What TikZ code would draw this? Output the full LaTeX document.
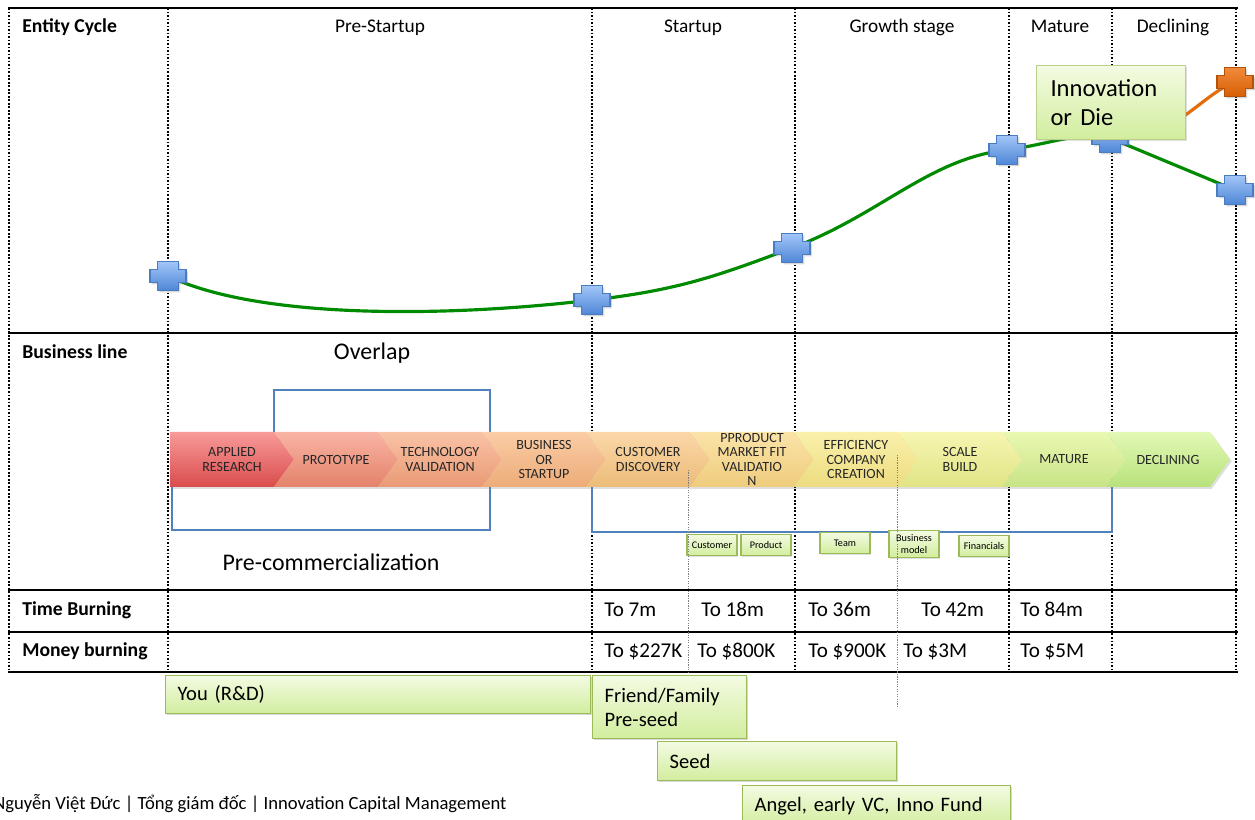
\documentclass[tikz,border=0pt]{standalone}
\usepackage{fontspec}
\setmainfont{Carlito}
\usetikzlibrary{shadows,positioning}

\definecolor{cyclegreen}{HTML}{008A00}
\definecolor{cycleorange}{HTML}{E46C0A}
\definecolor{markedge}{HTML}{4A7DBF}
\definecolor{marktop}{HTML}{A2C6F8}
\definecolor{markbot}{HTML}{4E86D6}
\definecolor{orangetop}{HTML}{F08A3A}
\definecolor{orangebot}{HTML}{D85F05}
\definecolor{orangeedge}{HTML}{B55208}
\definecolor{frameblue}{HTML}{4F81BD}
\definecolor{leafedge}{HTML}{9BBB59}
\definecolor{leaftop}{HTML}{F3FBE2}
\definecolor{leafbot}{HTML}{D2ED9E}
% chevron colours, top and bottom of each
\definecolor{chtop0}{HTML}{F89A9A}\definecolor{chbot0}{HTML}{DA4C4C}
\definecolor{chtop1}{HTML}{F9B4A4}\definecolor{chbot1}{HTML}{E4826A}
\definecolor{chtop2}{HTML}{FAC2A6}\definecolor{chbot2}{HTML}{E99A74}
\definecolor{chtop3}{HTML}{FBCCA6}\definecolor{chbot3}{HTML}{ECAC78}
\definecolor{chtop4}{HTML}{FBD7A8}\definecolor{chbot4}{HTML}{ECBC78}
\definecolor{chtop5}{HTML}{FBE3A8}\definecolor{chbot5}{HTML}{EECC7C}
\definecolor{chtop6}{HTML}{FAF0AA}\definecolor{chbot6}{HTML}{ECDC80}
\definecolor{chtop7}{HTML}{F6F6B2}\definecolor{chbot7}{HTML}{E0E484}
\definecolor{chtop8}{HTML}{EAF8B2}\definecolor{chbot8}{HTML}{C8E486}
\definecolor{chtop9}{HTML}{E2F8B4}\definecolor{chbot9}{HTML}{B8E27C}

\tikzset{
  rule/.style={black, line width=1.4pt},
  colline/.style={black, line width=1.1pt, dash pattern=on 1pt off 1pt},
  hairline/.style={gray, line width=0.4pt, dash pattern=on 0.7pt off 0.7pt},
  hdr/.style={anchor=base, font=\fontsize{11}{13}\selectfont},
  rowlabel/.style={anchor=base west, inner sep=0pt, font=\fontsize{11.2}{13}\selectfont\bfseries},
  cell/.style={anchor=base west, inner sep=0pt, font=\fontsize{12}{14}\selectfont},
  biglabel/.style={font=\fontsize{13.6}{16}\selectfont},
  framebox/.style={draw=frameblue, line width=0.6pt},
  chevron/.style={draw=none, drop shadow={opacity=0.25, shadow xshift=1pt, shadow yshift=-1pt}},
  chlabel/.style={align=center, text=black!85, font=\fontsize{8}{8.2}\selectfont},
  minibox/.style={draw=leafedge, line width=1pt, top color=leaftop, bottom color=leafbot,
    minimum width=1cm, minimum height=0.42cm, inner sep=0pt, align=center,
    font=\fontsize{5.8}{6.5}\selectfont,
    drop shadow={opacity=0.25, shadow xshift=0.7pt, shadow yshift=-0.7pt}},
  fundbox/.style={draw=leafedge, line width=0.8pt, top color=leaftop, bottom color=leafbot,
    anchor=north west, align=left, inner xsep=0.24cm, inner ysep=0pt,
    font=\fontsize{11.7}{13.8}\selectfont,
    drop shadow={opacity=0.3, shadow xshift=1pt, shadow yshift=-1pt}},
  innobox/.style={draw=leafedge!70, line width=0.6pt, top color=leaftop, bottom color=leafbot,
    anchor=north west, align=left, inner xsep=0.28cm, inner ysep=0pt,
    font=\fontsize{14}{16.4}\selectfont,
    drop shadow={opacity=0.25, shadow xshift=1pt, shadow yshift=-1pt}},
  growth/.style={cyclegreen, line width=1.8pt},
  renewal/.style={cycleorange, line width=1.8pt},
  bluemark/.style={draw=markedge, line width=0.6pt, top color=marktop, bottom color=markbot,
    drop shadow={opacity=0.3, shadow xshift=1pt, shadow yshift=-1pt}},
  orangemark/.style={draw=orangeedge, line width=0.6pt, top color=orangetop, bottom color=orangebot,
    drop shadow={opacity=0.3, shadow xshift=1pt, shadow yshift=-1pt}},
  pics/xmark/.style={code={
    \path[#1] (-10.5,-14.5) -- (10.5,-14.5) -- (10.5,-6.5) -- (18,-6.5) -- (18,6.5)
      -- (10.5,6.5) -- (10.5,14.5) -- (-10.5,14.5) -- (-10.5,6.5) -- (-18,6.5)
      -- (-18,-6.5) -- (-10.5,-6.5) -- cycle;
  }}
}

\begin{document}
\begin{tikzpicture}[x=0.02cm, y=-0.02cm]
\useasboundingbox (0,0) rectangle (1255,820);

% table rules
\foreach \x in {9,168,592,795,1009,1112,1236}
  \draw[colline] (\x,8) -- (\x,672);
\foreach \y in {8,333,590,632,672}
  \draw[rule] (8,\y) -- (1238,\y);

% header row
\node[rowlabel] (entity) at (22,33) {Entity Cycle};
\node[hdr] (prestartup) at (380,33) {Pre-Startup};
\node[hdr] (startup) at (693,33) {Startup};
\node[hdr] (growthstage) at (902,33) {Growth stage};
\node[hdr] (mature) at (1060,33) {Mature};
\node[hdr] (declining) at (1173,33) {Declining};

% business line
\node[rowlabel] (business) at (22,359) {Business line};
\node[biglabel] (overlap) at (372,353) {Overlap};
\draw[framebox] (274,390) rectangle (490,470);
\draw[framebox] (172,440) rectangle (490,530);
\draw[framebox] (592,440) rectangle (1112,532);
\node[biglabel] (precomm) at (331,562) {Pre-commercialization};

\foreach \i/\lbl in {0/{APPLIED\\RESEARCH}, 1/PROTOTYPE, 2/{TECHNOLOGY\\VALIDATION},
    3/{BUSINESS\\OR\\STARTUP}, 4/{CUSTOMER\\DISCOVERY}, 5/{PPRODUCT\\MARKET FIT\\VALIDATIO\\N},
    6/{EFFICIENCY\\COMPANY\\CREATION}, 7/{SCALE\\BUILD}, 8/MATURE, 9/DECLINING} {
  \pgfmathsetmacro\xa{170+104*\i}
  \pgfmathsetmacro\nd{\i==0 ? 0 : 20}
  \path[chevron, top color=chtop\i, bottom color=chbot\i] (\xa,432) -- ++(104,0)
    -- ++(20,27.5) -- ++(-20,27.5) -- ++(-104,0) -- ++(\nd,-27.5) -- cycle;
  \node[chlabel] (ch\i) at ({\xa+62},459.5) {\lbl};
}

\node[minibox] (customer) at (712,545) {Customer};
\node[minibox] (product) at (766,545) {Product};
\node[minibox] (team) at (845,543) {Team};
\node[minibox, minimum height=0.54cm] (bizmodel) at (914,544) {Business\\model};
\node[minibox] (financials) at (984,546) {Financials};

\draw[hairline] (688,470) -- (688,672);
\draw[hairline] (897,455) -- (897,708);

% burning rows
\node[rowlabel] (timeburn) at (22,616) {Time Burning};
\node[rowlabel] (moneyburn) at (22,657) {Money burning};
\node[cell] (t1) at (604,617) {To 7m};
\node[cell] (t2) at (701,617) {To 18m};
\node[cell] (t3) at (808,617) {To 36m};
\node[cell] (t4) at (921,617) {To 42m};
\node[cell] (t5) at (1020,617) {To 84m};
\node[cell] (m1) at (604,658) {To \$227K};
\node[cell] (m2) at (697,658) {To \$800K};
\node[cell] (m3) at (808,658) {To \$900K};
\node[cell] (m4) at (903,658) {To \$3M};
\node[cell] (m5) at (1020,658) {To \$5M};

% funding
\node[fundbox, text width=8.02cm, minimum height=0.76cm] (you) at (165,675) {You (R\&D)};
\node[fundbox, text width=2.6cm, minimum height=1.26cm] (friend) at (592,675) {Friend/Family\\Pre-seed};
\node[fundbox, text width=4.3cm, minimum height=0.78cm] (seed) at (657,741) {Seed};
\node[fundbox, text width=4.88cm, minimum height=0.8cm] (angel) at (742,785) {Angel, early VC, Inno Fund};

\node[anchor=west, inner sep=0pt, font=\fontsize{10.6}{12}\selectfont] (footer) at (-7,804)
  {Nguyễn Việt Đức | Tổng giám đốc | Innovation Capital Management};

% entity cycle curve
\coordinate (p1) at (168,276);
\coordinate (p2) at (592,300);
\coordinate (p3) at (792,248);
\coordinate (p4) at (1007,150);
\coordinate (p5) at (1110,138);
\coordinate (p6) at (1235,190);
\coordinate (p7) at (1235,82);
\draw[growth] (p1) .. controls (260,320) and (450,317) .. (p2)
  .. controls (680,290) and (720,275) .. (p3)
  .. controls (880,215) and (930,158) .. (p4)
  .. controls (1050,144) and (1085,130) .. (p5) -- (p6);
\draw[renewal] (p5) .. controls (1170,145) and (1200,95) .. (p7);
\foreach \p in {p1,p2,p3,p4,p5,p6}
  \pic at (\p) {xmark=bluemark};
\pic at (p7) {xmark=orangemark};

\node[innobox, text width=2.42cm, minimum height=1.48cm] (innovation) at (1036,65) {Innovation\\or Die};
\end{tikzpicture}
\end{document}
